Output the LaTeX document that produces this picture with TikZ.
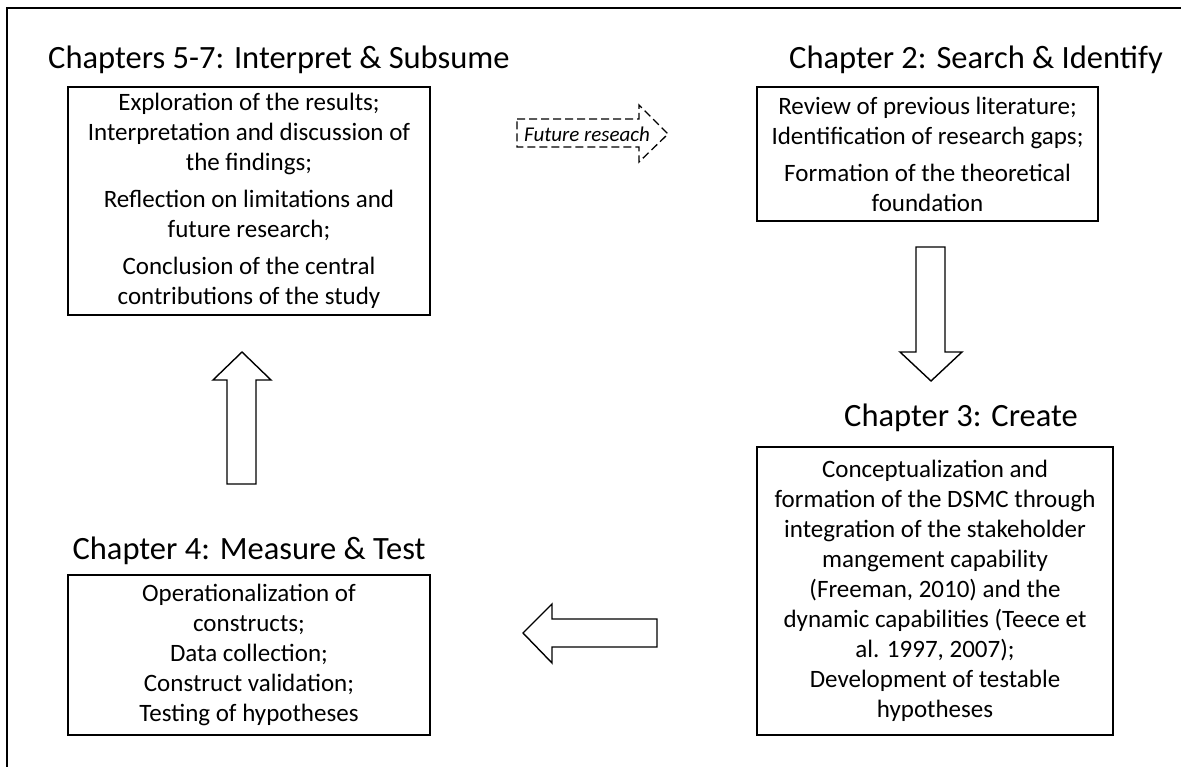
\documentclass[tikz,border=0pt]{standalone}
\usepackage{fontspec}
\setmainfont{Carlito}
\usetikzlibrary{calc}

\tikzset{
  chapbox/.style={draw, line width=1.4pt, align=center, inner sep=0pt,
    font=\fontsize{25}{30}\selectfont},
  chaptitle/.style={font=\fontsize{32.5}{38}\selectfont, inner sep=0pt},
  blockarrow/.style={draw, line width=1.4pt, line join=miter}
}

\begin{document}
\begin{tikzpicture}[x=1pt,y=-1pt]
\useasboundingbox (0,0) rectangle (1181,767);
% Frame
\draw[line width=1.4pt] (7,767) -- (7,8) -- (1181,8);

% Chapters 5-7
\node[chaptitle, anchor=west] (t57) at (48,60) {Chapters 5-7: Interpret \& Subsume};
\node[chapbox, minimum width=362pt, minimum height=228pt] (b57) at (249,201)
  {Exploration of the results;\\
   Interpretation and discussion of\\
   the findings;\\[7pt]
   Reflection on limitations and\\
   future research;\\[7pt]
   Conclusion of the central\\
   contributions of the study};

% Chapter 2
\node[chaptitle, anchor=east] (t2) at (1163,60) {Chapter 2: Search \& Identify};
\node[chapbox, minimum width=341pt, minimum height=134pt] (b2) at (927.5,154)
  {Review of previous literature;\\
   Identification of research gaps;\\[7pt]
   Formation of the theoretical\\
   foundation};

% Chapter 3
\node[chaptitle] (t3) at (961,418) {Chapter 3: Create};
\node[chapbox, minimum width=356pt, minimum height=288pt] (b3) at (935,591)
  {Conceptualization and\\
   formation of the DSMC through\\
   integration of the stakeholder\\
   mangement capability\\
   (Freeman, 2010) and the\\
   dynamic capabilities (Teece et\\
   al. 1997, 2007);\\
   Development of testable\\
   hypotheses};

% Chapter 4
\node[chaptitle] (t4) at (249,551) {Chapter 4: Measure \& Test};
\node[chapbox, minimum width=362pt, minimum height=160pt] (b4) at (249,655)
  {Operationalization of\\
   constructs;\\
   Data collection;\\
   Construct validation;\\
   Testing of hypotheses};

% Future research arrow
\draw[blockarrow, dash pattern=on 8pt off 4pt, line width=1.3pt]
  (517,119) -- (639,119) -- (639,105) -- (668,134) -- (639,162) -- (639,147) -- (517,147) -- cycle;
\node[font=\fontsize{21}{24}\selectfont\itshape, inner sep=0pt] (fut) at (587,134) {Future reseach};

% Arrow down
\draw[blockarrow] (916,247) -- (945,247) -- (945,352) -- (962,352) -- (931,381)
  -- (900,352) -- (916,352) -- cycle;
% Arrow left
\draw[blockarrow] (657,619) -- (657,647) -- (552,647) -- (552,663) -- (523,633)
  -- (552,604) -- (552,619) -- cycle;
% Arrow up
\draw[blockarrow] (227,484) -- (256,484) -- (256,380) -- (271,380) -- (242,352)
  -- (213,380) -- (227,380) -- cycle;

\end{tikzpicture}
\end{document}
